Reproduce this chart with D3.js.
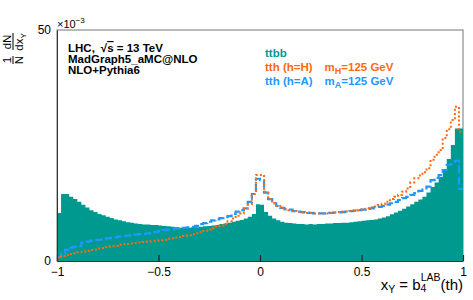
<!DOCTYPE html>
<html>
<head>
<meta charset="utf-8">
<script src="https://cdn.jsdelivr.net/npm/d3@7"></script>
<style>
  body { margin: 0; background: #fff; }
  text { font-family: "Liberation Sans", Arial, Helvetica, sans-serif; }
</style>
</head>
<body>
<script>
'use strict';

// binning of x_Y
const xLow = -1;
const xHigh = 1;
const nBins = 100;

// values in units of 1e-3
const ttbb = [
  10.4, 14.5, 14.5, 13.9, 13.4, 12.8, 12.2, 11.6, 11.0, 10.6,
  10.2, 9.9, 9.6, 9.3, 9.0, 8.8, 8.6, 8.4, 8.3, 8.1,
  8.0, 7.9, 7.9, 7.8, 7.8, 7.7, 7.6, 7.5, 7.4, 7.3,
  7.2, 7.2, 7.2, 7.3, 7.3, 7.4, 7.5, 7.6, 7.7, 7.8,
  8.0, 8.1, 8.3, 8.5, 8.7, 8.9, 9.2, 9.6, 10.2, 12.3,
  12.2, 10.6, 9.8, 9.2, 8.8, 8.5, 8.3, 8.2, 8.1, 8.0,
  8.0, 7.9, 8.0, 7.9, 8.0, 8.0, 8.1, 8.1, 8.2, 8.2,
  8.3, 8.3, 8.4, 8.5, 8.6, 8.7, 8.8, 8.9, 9.0, 9.2,
  9.4, 9.7, 10.1, 10.5, 10.9, 11.3, 11.8, 12.3, 12.8, 13.3,
  13.9, 14.8, 16.0, 17.0, 18.2, 19.7, 22.1, 25.1, 28.7, 28.7
];

const tthH = [
  0.7, 1.1, 1.3, 1.5, 1.7, 1.9, 2.0, 2.2, 2.4, 2.5,
  2.7, 2.8, 3.0, 3.2, 3.3, 3.5, 3.6, 3.7, 3.8, 3.9,
  4.0, 4.1, 4.2, 4.3, 4.4, 4.5, 4.6, 4.8, 4.9, 5.1,
  5.2, 5.4, 5.6, 5.8, 6.0, 6.2, 6.5, 6.8, 7.1, 7.4,
  7.7, 8.0, 8.6, 9.2, 9.8, 10.3, 11.3, 12.3, 14.5, 18.6,
  18.6, 15.0, 13.4, 12.5, 11.9, 11.5, 11.2, 11.0, 10.8, 10.6,
  10.5, 10.4, 10.4, 10.3, 10.3, 10.3, 10.3, 10.4, 10.5, 10.6,
  10.7, 10.7, 10.8, 10.9, 11.0, 11.2, 11.4, 11.6, 11.8, 12.1,
  12.4, 12.8, 13.4, 13.9, 14.3, 15.0, 15.7, 17.0, 17.9, 18.5,
  19.2, 20.1, 21.9, 23.0, 24.0, 26.6, 28.5, 30.5, 33.4, 28.0
];

const tthA = [
  0.9, 1.7, 2.4, 2.9, 3.1, 3.2, 4.0, 4.2, 4.4, 4.5,
  4.6, 4.7, 4.9, 5.0, 5.1, 5.3, 5.4, 5.5, 5.6, 5.7,
  5.8, 5.9, 6.0, 6.1, 6.3, 6.5, 6.7, 6.8, 6.9, 7.0,
  7.1, 7.2, 7.3, 7.4, 7.6, 8.0, 8.2, 8.5, 8.8, 9.0,
  9.3, 9.5, 9.7, 10.2, 10.7, 11.0, 11.4, 12.8, 14.5, 17.8,
  17.5, 14.8, 13.4, 12.5, 11.9, 11.5, 11.2, 11.1, 10.8, 10.7,
  10.6, 10.5, 10.4, 10.3, 10.3, 10.3, 10.3, 10.4, 10.5, 10.5,
  10.6, 10.7, 10.8, 10.9, 11.0, 11.1, 11.3, 11.4, 11.6, 11.7,
  11.9, 12.2, 12.5, 12.8, 13.2, 13.6, 13.9, 14.3, 14.7, 15.2,
  15.7, 16.1, 17.5, 18.0, 18.6, 19.7, 20.8, 21.0, 21.7, 15.6
];

const xTicks = [-1, -0.5, 0, 0.5, 1];
const xTickLabels = ['\u22121', '\u22120.5', '0', '0.5', '1'];
const yTicks = [0, 50];
const yTickLabels = ['0', '50'];

const infoLines = ['MadGraph5_aMC@NLO', 'NLO+Pythia6'];

const colors = {
  ttbb: '#00998f',
  tthH: '#ff6a10',
  tthA: '#1e98ff'
};

const width = 473, height = 300;
const frame = { left: 57, right: 463, top: 30, bottom: 261 };

const svg = d3.select('body')
  .append('svg')
  .attr('width', width)
  .attr('height', height);

const x = d3.scaleLinear().domain([xLow, xHigh]).range([frame.left, frame.right]);
const y = d3.scaleLinear().domain([0, 50]).range([frame.bottom, frame.top]);

// bin edges, last value repeated so the step reaches the right edge
function toSteps(values) {
  let step = (xHigh - xLow) / nBins;
  let pts = values.map((v, i) => [xLow + i * step, v]);
  pts.push([xHigh, values[values.length - 1]]);
  return pts;
}

// frame
svg.append('rect')
  .attr('x', frame.left)
  .attr('y', frame.top)
  .attr('width', frame.right - frame.left)
  .attr('height', frame.bottom - frame.top)
  .attr('fill', 'none')
  .attr('stroke', '#777')
  .attr('stroke-width', 1);

// ttbb filled histogram
let area = d3.area()
  .x(d => x(d[0]))
  .y0(y(0))
  .y1(d => y(d[1]))
  .curve(d3.curveStepAfter);

svg.append('path')
  .datum(toSteps(ttbb))
  .attr('d', area)
  .attr('fill', colors.ttbb);

let line = d3.line()
  .x(d => x(d[0]))
  .y(d => y(d[1]))
  .curve(d3.curveStepAfter);

// tth (h=A) dashed
svg.append('path')
  .datum(toSteps(tthA))
  .attr('d', line)
  .attr('fill', 'none')
  .attr('stroke', colors.tthA)
  .attr('stroke-width', 2.2)
  .attr('stroke-dasharray', '8,3');

// tth (h=H) dotted
svg.append('path')
  .datum(toSteps(tthH))
  .attr('d', line)
  .attr('fill', 'none')
  .attr('stroke', colors.tthH)
  .attr('stroke-width', 2)
  .attr('stroke-dasharray', '2,2.2');

// x axis, ticks pointing inside
let xAxis = d3.axisBottom(x)
  .tickValues(xTicks)
  .tickFormat((d, i) => xTickLabels[i])
  .tickSizeInner(-6)
  .tickSizeOuter(0)
  .tickPadding(6);

let gx = svg.append('g')
  .attr('transform', 'translate(0,' + frame.bottom + ')')
  .call(xAxis);
gx.select('.domain').attr('stroke', '#333');
gx.selectAll('.tick line').attr('stroke', '#222').attr('stroke-width', 1.2);
gx.selectAll('.tick text')
  .attr('fill', '#000')
  .style('font-size', '12px')
  .style('font-family', '"Liberation Sans", Arial, sans-serif');

// y axis
let yAxis = d3.axisLeft(y)
  .tickValues(yTicks)
  .tickFormat((d, i) => yTickLabels[i])
  .tickSize(0)
  .tickPadding(6);

let gy = svg.append('g')
  .attr('transform', 'translate(' + frame.left + ',0)')
  .call(yAxis);
gy.select('.domain').attr('stroke', '#333');
gy.selectAll('.tick text')
  .attr('fill', '#000')
  .attr('dy', '0.25em')
  .style('font-size', '12px')
  .style('font-family', '"Liberation Sans", Arial, sans-serif');

// exponent label
let expo = svg.append('text')
  .attr('x', frame.left)
  .attr('y', 28)
  .style('font-size', '11px');
expo.append('tspan').text('\u00d710');
expo.append('tspan').attr('dy', -5).style('font-size', '8px').text('\u22123');

// y title as stacked fractions, rotated
let yt = svg.append('g')
  .attr('transform', 'translate(13,33)rotate(-90)')
  .style('font-size', '11.5px');

function fraction(g, cx, num, den, sub) {
  g.append('text').attr('x', cx).attr('y', -2)
    .attr('text-anchor', 'middle').text(num);
  let t = g.append('text').attr('x', cx).attr('y', 10)
    .attr('text-anchor', 'middle');
  t.append('tspan').text(den);
  if (sub) {
    t.append('tspan').attr('dy', 3).style('font-size', '8px').text(sub);
  }
}
fraction(yt, -27, '1', 'N');
fraction(yt, -9, 'dN', 'dx', 'Y');
yt.append('line').attr('x1', -31).attr('x2', -23).attr('y1', 0).attr('y2', 0)
  .attr('stroke', '#000').attr('stroke-width', 1);
yt.append('line').attr('x1', -17).attr('x2', 0).attr('y1', 0).attr('y2', 0)
  .attr('stroke', '#000').attr('stroke-width', 1);

// x title
let xt = svg.append('text')
  .attr('x', frame.right)
  .attr('y', 290)
  .attr('text-anchor', 'end')
  .style('font-size', '15px');
xt.append('tspan').text('x');
xt.append('tspan').attr('dy', 3).style('font-size', '10.5px').text('Y');
xt.append('tspan').attr('dy', -3).text(' = b');
xt.append('tspan').attr('dy', 2).style('font-size', '10.5px').text('4');
xt.append('tspan').attr('dx', -5.8).attr('dy', -11).style('font-size', '10.5px').text('LAB');
xt.append('tspan').attr('dy', 9).text('(th)');

// info text
let info = svg.append('g')
  .style('font-size', '11.5px')
  .style('font-weight', 'bold');
let l1 = info.append('text').attr('x', 68).attr('y', 52);
l1.append('tspan').text('LHC,');
l1.append('tspan').attr('dx', 6).text('\u221a');
l1.append('tspan').style('text-decoration', 'overline').text('s');
l1.append('tspan').text(' = 13 TeV');
info.selectAll('.info')
  .data(infoLines)
  .enter()
  .append('text')
  .attr('class', 'info')
  .attr('x', 68)
  .attr('y', (d, i) => 63 + i * 11)
  .text(d => d);

// legend
let leg = svg.append('g')
  .style('font-size', '11.5px')
  .style('font-weight', 'bold');
leg.append('text').attr('x', 265).attr('y', 57).attr('fill', colors.ttbb).text('ttbb');

function legendLine(yy, color, label, sub) {
  let t = leg.append('text').attr('x', 265).attr('y', yy).attr('fill', color);
  t.append('tspan').text(label);
  t.append('tspan').attr('dx', 12).text('m');
  t.append('tspan').attr('dy', 3).style('font-size', '9px').text(sub);
  t.append('tspan').attr('dy', -3).text('=125 GeV');
}
legendLine(71, colors.tthH, 'tth (h=H)', 'H');
legendLine(85, colors.tthA, 'tth (h=A)', 'A');
</script>
</body>
</html>
